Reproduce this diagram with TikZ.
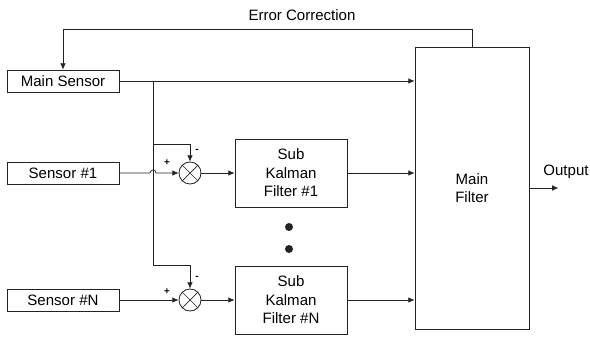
\documentclass[tikz,border=0pt]{standalone}
\usepackage{fontspec}
\setmainfont{Liberation Sans}
\usepackage{tikz}
\usetikzlibrary{calc,arrows.meta}
\usepackage{xcolor}
\definecolor{ink}{RGB}{35,35,35}
\tikzset{
  blk/.style={draw=ink,line width=0.6pt,align=center,inner sep=0pt},
  sumj/.style={draw=ink,line width=0.6pt,circle,minimum size=0.55cm,inner sep=0pt,
    path picture={\draw[ink,line width=0.5pt] (path picture bounding box.north west)--(path picture bounding box.south east)
      (path picture bounding box.south west)--(path picture bounding box.north east);}},
  sig/.style={draw=ink,line width=0.5pt,-{Latex[length=4.5pt,width=4pt]}},
  wire/.style={draw=ink,line width=0.5pt},
  sgn/.style={font=\scriptsize\bfseries,inner sep=0pt}
}

\begin{document}
\begin{tikzpicture}[font=\fontsize{10.7}{13.2}\selectfont]
  \useasboundingbox (0,0) rectangle (14.75,8.475);
  \node[blk,minimum width=2.8cm,minimum height=0.55cm] (ms) at (1.575,6.45) {Main Sensor};
  \node[blk,minimum width=2.8cm,minimum height=0.55cm] (s1) at (1.575,4.15) {Sensor \#1};
  \node[blk,minimum width=2.8cm,minimum height=0.55cm] (sn) at (1.575,0.975) {Sensor \#N};
  \node[sumj] (j1) at (4.75,4.15) {};
  \node[sumj] (jn) at (4.75,0.975) {};
  \node[blk,minimum width=2.8cm,minimum height=1.7cm] (kf1) at (7.275,4.15) {Sub\\Kalman\\Filter \#1};
  \node[blk,minimum width=2.8cm,minimum height=1.7cm] (kfn) at (7.275,0.975) {Sub\\Kalman\\Filter \#N};
  \node[blk,minimum width=2.85cm,minimum height=7.05cm] (mf) at (11.8,3.775) {Main\\Filter};
  \node (ec) at (7.55,8.1) {Error Correction};
  \node (out) at (14.15,4.175) {Output};
  \node[sgn] (p1) at (4.175,4.4) {+};
  \node[sgn] (m1) at (4.925,4.7) {-};
  \node[sgn] (pn) at (4.175,1.175) {+};
  \node[sgn] (mn) at (4.925,1.525) {-};
  \coordinate (br) at (3.825,6.45);
  \fill[ink] (7.225,2.8) circle (0.1);\fill[ink] (7.225,2.25) circle (0.1);
  % feedback and main sensor
  \draw[sig] (mf.north) -- ++(0,0.425) -| (ms.north);
  \draw[sig] (ms.east) -- (ms.east -| mf.west);
  % branch to the junctions
  \draw[sig] (br) |- ([yshift=0.575cm]jn.north) -- (jn.north);
  \draw[sig] ([yshift=0.425cm]j1.north -| br) -| (j1.north);
  \draw[sig] (s1.east) -- ([xshift=-0.075cm]s1.east -| br) arc[start angle=180,end angle=0,radius=0.075cm] -- (j1.west);
  \draw[sig] (sn.east) -- (jn.west);
  \draw[sig] (j1.east) -- (kf1.west);
  \draw[sig] (jn.east) -- (kfn.west);
  \draw[sig] (kf1.east) -- (kf1.east -| mf.west);
  \draw[sig] (kfn.east) -- (kfn.east -| mf.west);
  \draw[sig] (mf.east) -- ++(0.725,0);
\end{tikzpicture}
\end{document}
